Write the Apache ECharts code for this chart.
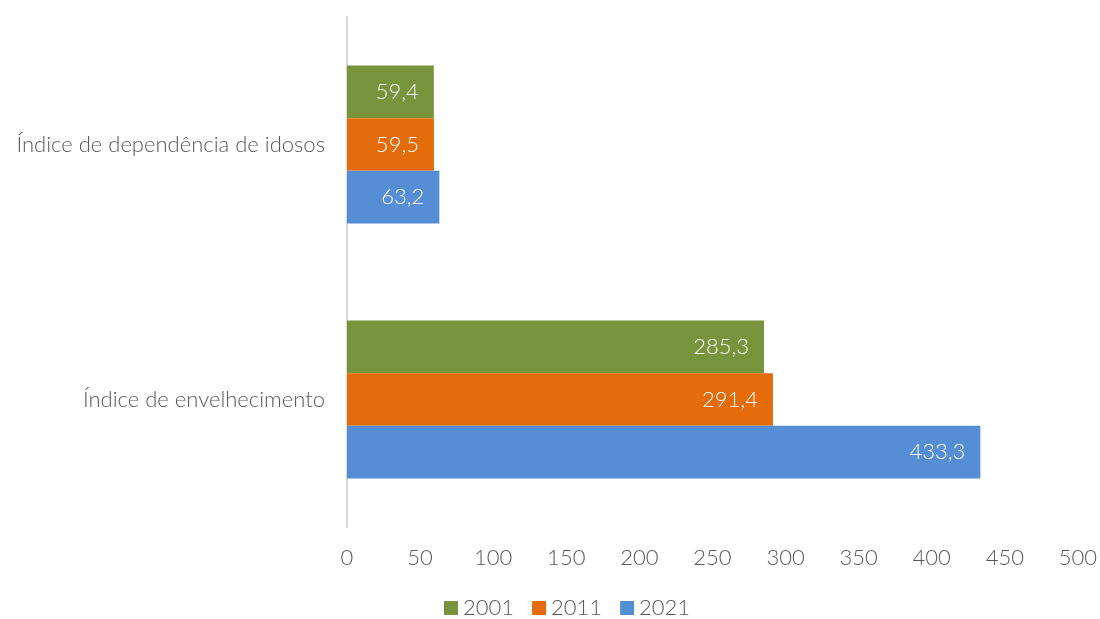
<!DOCTYPE html>
<html><head><meta charset="utf-8">
<script src="https://cdn.jsdelivr.net/npm/echarts@6/dist/echarts.min.js"></script>
<style>html,body{margin:0;padding:0;background:#fff}#c{width:1100px;height:619px}</style>
</head><body><div id="c"></div>
<script>
const categories = ["Índice de dependência de idosos", "Índice de envelhecimento"];
const seriesNames = ["2001", "2011", "2021"];
const values2001 = [59.4, 285.3];
const values2011 = [59.5, 291.4];
const values2021 = [63.2, 433.3];
const colors = ["#77933C", "#E46C0A", "#558ED5"];
const font = "Lato";
const fw = 300;
const chart = echarts.init(document.getElementById('c'), null, {renderer: 'canvas'});
const allValues = [values2001, values2011, values2021];
chart.setOption({
  animation: false,
  textStyle: {fontFamily: font},
  grid: {left: 347, right: 19, top: 17, bottom: 92, containLabel: false},
  legend: {
    top: 592, left: 439, itemWidth: 14, itemHeight: 14, itemGap: 18, icon: 'rect',
    textStyle: {color: '#595959', fontSize: 22, fontFamily: font, fontWeight: fw},
    data: seriesNames
  },
  xAxis: {
    type: 'value', min: 0, max: 500, interval: 50,
    axisLine: {show: false}, axisTick: {show: false}, splitLine: {show: false},
    axisLabel: {color: '#595959', fontSize: 22, fontFamily: font, fontWeight: fw, margin: 20}
  },
  yAxis: {
    type: 'category', data: categories, inverse: true,
    axisLine: {show: true, lineStyle: {color: '#D9D9D9', width: 2}},
    axisTick: {show: false},
    axisLabel: {color: '#595959', fontSize: 22, fontFamily: font, fontWeight: fw, margin: 22}
  },
  series: seriesNames.map((n, i) => ({
    name: n, type: 'bar', data: allValues[i],
    barGap: '0%', barCategoryGap: '38%',
    itemStyle: {color: colors[i]},
    label: {
      show: true, position: 'insideRight', distance: 15, color: '#fff',
      fontSize: 22, fontFamily: font, fontWeight: fw,
      formatter: p => p.value.toFixed(1).replace('.', ',')
    }
  }))
});
</script></body></html>
